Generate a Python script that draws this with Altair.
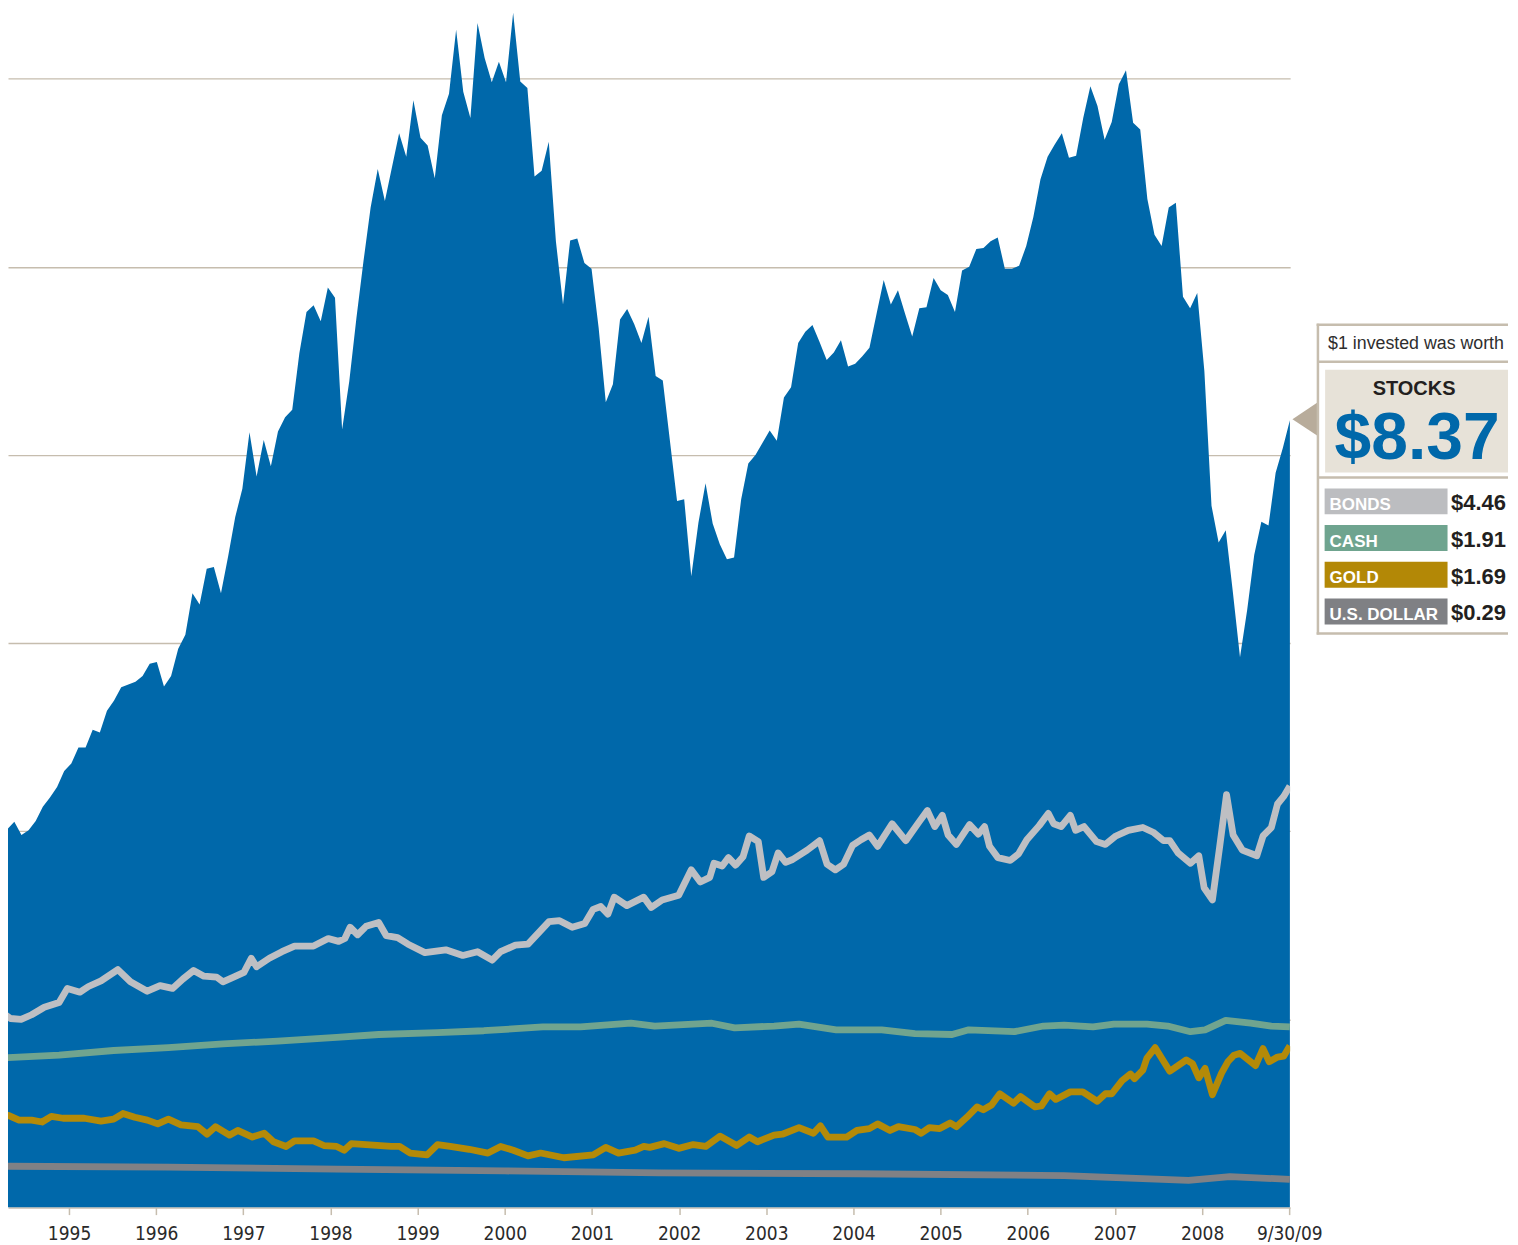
import altair as alt
import numpy as np
import pandas as pd

# ---------------- data ----------------
STOCK_START, STOCK_END = 1994.959, 2009.757
STOCK_V = [4.12, 4.02, 4.10, 3.96, 4.01, 4.11, 4.26, 4.36, 4.47, 4.64,
           4.72, 4.89, 4.89, 5.08, 5.05, 5.28, 5.39, 5.53, 5.56, 5.59,
           5.65, 5.78, 5.80, 5.54, 5.65, 5.94, 6.09, 6.53, 6.41, 6.79,
           6.81, 6.53, 6.92, 7.34, 7.64, 8.24, 7.77, 8.16, 7.88, 8.25,
           8.40, 8.48, 9.08, 9.52, 9.59, 9.42, 9.78, 9.67, 8.27, 8.78,
           9.45, 10.06, 10.63, 11.04, 10.70, 11.06, 11.42, 11.17, 11.77, 11.37,
           11.29, 10.94, 11.61, 11.84, 12.52, 11.86, 11.58, 12.59, 12.22, 11.96,
           12.18, 11.96, 12.70, 11.97, 11.90, 10.96, 11.02, 11.33, 10.27, 9.60,
           10.28, 10.30, 10.04, 9.98, 9.35, 8.56, 8.75, 9.44, 9.55, 9.39,
           9.19, 9.47, 8.84, 8.79, 8.15, 7.51, 7.53, 6.71, 7.28, 7.70,
           7.27, 7.05, 6.89, 6.91, 7.53, 7.91, 8.00, 8.13, 8.26, 8.15,
           8.61, 8.72, 9.19, 9.31, 9.38, 9.20, 9.01, 9.09, 9.22, 8.94,
           8.97, 9.05, 9.14, 9.50, 9.86, 9.60, 9.75, 9.50, 9.26, 9.56,
           9.57, 9.88, 9.75, 9.70, 9.52, 9.96, 10.00, 10.19, 10.20, 10.27,
           10.31, 9.98, 9.98, 10.01, 10.22, 10.53, 10.93, 11.17, 11.30, 11.42,
           11.16, 11.18, 11.58, 11.92, 11.71, 11.35, 11.54, 11.94, 12.09, 11.53,
           11.46, 10.72, 10.34, 10.22, 10.63, 10.68, 9.68, 9.56, 9.72, 8.89,
           7.46, 7.07, 7.20, 6.54, 5.85, 6.35, 6.94, 7.29, 7.25, 7.81,
           8.07, 8.37]

BOND_T = [1994.959, 1995.079, 1995.200, 1995.321, 1995.466, 1995.636, 1995.731, 1995.876, 1995.973, 1996.117,
          1996.310, 1996.455, 1996.648, 1996.794, 1996.938, 1997.057, 1997.179, 1997.298, 1997.444, 1997.516,
          1997.638, 1997.757, 1997.841, 1997.902, 1998.048, 1998.193, 1998.337, 1998.555, 1998.724, 1998.844,
          1998.915, 1998.975, 1999.061, 1999.158, 1999.303, 1999.390, 1999.520, 1999.640, 1999.833, 2000.073,
          2000.268, 2000.437, 2000.605, 2000.702, 2000.871, 2001.016, 2001.257, 2001.378, 2001.523, 2001.667,
          2001.764, 2001.851, 2001.933, 2002.005, 2002.150, 2002.344, 2002.430, 2002.555, 2002.745, 2002.889,
          2002.993, 2003.101, 2003.150, 2003.244, 2003.316, 2003.397, 2003.483, 2003.554, 2003.658, 2003.720,
          2003.815, 2003.886, 2003.972, 2004.052, 2004.219, 2004.362, 2004.447, 2004.542, 2004.637, 2004.740,
          2004.837, 2004.932, 2005.027, 2005.193, 2005.350, 2005.503, 2005.598, 2005.683, 2005.769, 2005.836,
          2005.931, 2006.082, 2006.183, 2006.254, 2006.311, 2006.407, 2006.549, 2006.644, 2006.739, 2006.881,
          2006.985, 2007.047, 2007.133, 2007.238, 2007.299, 2007.395, 2007.538, 2007.641, 2007.761, 2007.903,
          2008.070, 2008.188, 2008.307, 2008.379, 2008.474, 2008.617, 2008.712, 2008.773, 2008.868, 2008.949,
          2009.030, 2009.106, 2009.211, 2009.378, 2009.449, 2009.544, 2009.615, 2009.686, 2009.757]
BOND_V = [2.09, 2.01, 2.00, 2.05, 2.13, 2.18, 2.33, 2.29, 2.35, 2.41,
          2.53, 2.40, 2.30, 2.36, 2.33, 2.43, 2.52, 2.46, 2.45, 2.40,
          2.45, 2.50, 2.65, 2.56, 2.65, 2.72, 2.78, 2.78, 2.86, 2.83,
          2.86, 2.98, 2.90, 2.99, 3.03, 2.89, 2.87, 2.80, 2.71, 2.74,
          2.68, 2.72, 2.63, 2.72, 2.79, 2.80, 3.04, 3.05, 2.98, 3.02,
          3.17, 3.20, 3.12, 3.30, 3.21, 3.30, 3.19, 3.27, 3.32, 3.59,
          3.46, 3.51, 3.66, 3.63, 3.72, 3.64, 3.73, 3.95, 3.89, 3.51,
          3.57, 3.77, 3.67, 3.70, 3.80, 3.90, 3.65, 3.59, 3.65, 3.85,
          3.91, 3.96, 3.84, 4.08, 3.90, 4.10, 4.22, 4.05, 4.17, 3.96,
          3.86, 4.07, 3.97, 4.05, 3.84, 3.72, 3.69, 3.76, 3.91, 4.06,
          4.19, 4.08, 4.05, 4.17, 4.01, 4.05, 3.89, 3.86, 3.95, 4.01,
          4.04, 3.99, 3.90, 3.90, 3.77, 3.66, 3.74, 3.40, 3.27, 3.82,
          4.39, 3.96, 3.80, 3.74, 3.95, 4.04, 4.29, 4.37, 4.48]

CASH_T = [1994.959, 1995.636, 1996.262, 1996.889, 1997.516, 1998.145, 1998.820, 1999.303, 1999.978, 2000.509,
          2001.186, 2001.619, 2002.198, 2002.470, 2003.126, 2003.387, 2003.839, 2004.125, 2004.552, 2005.075,
          2005.455, 2005.882, 2006.073, 2006.596, 2006.929, 2007.167, 2007.499, 2007.737, 2008.117, 2008.355,
          2008.616, 2008.784, 2009.021, 2009.307, 2009.544, 2009.757]
CASH_V = [1.59, 1.62, 1.67, 1.70, 1.74, 1.77, 1.81, 1.84, 1.86, 1.88,
          1.92, 1.92, 1.96, 1.93, 1.96, 1.91, 1.93, 1.95, 1.89, 1.89,
          1.85, 1.84, 1.89, 1.87, 1.93, 1.94, 1.92, 1.95, 1.95, 1.93,
          1.87, 1.89, 1.99, 1.96, 1.93, 1.92]

GOLD_T = [1994.959, 1995.055, 1995.177, 1995.321, 1995.441, 1995.547, 1995.681, 1995.925, 1996.117, 1996.262,
          1996.368, 1996.504, 1996.648, 1996.768, 1996.890, 1997.035, 1997.227, 1997.333, 1997.430, 1997.590,
          1997.686, 1997.854, 1997.990, 1998.096, 1998.241, 1998.337, 1998.555, 1998.674, 1998.820, 1998.907,
          1998.989, 1999.158, 1999.447, 1999.543, 1999.665, 1999.858, 1999.978, 2000.123, 2000.341, 2000.557,
          2000.702, 2000.847, 2001.016, 2001.161, 2001.427, 2001.764, 2001.908, 2002.054, 2002.246, 2002.344,
          2002.413, 2002.579, 2002.745, 2002.911, 2003.055, 2003.221, 2003.410, 2003.554, 2003.649, 2003.839,
          2003.934, 2004.125, 2004.291, 2004.371, 2004.457, 2004.672, 2004.790, 2004.932, 2005.027, 2005.170,
          2005.266, 2005.455, 2005.527, 2005.621, 2005.740, 2005.859, 2005.931, 2006.050, 2006.168, 2006.239,
          2006.334, 2006.429, 2006.586, 2006.667, 2006.834, 2006.905, 2007.000, 2007.071, 2007.238, 2007.381,
          2007.548, 2007.641, 2007.714, 2007.832, 2007.928, 2007.975, 2008.070, 2008.117, 2008.212, 2008.379,
          2008.569, 2008.640, 2008.712, 2008.784, 2008.868, 2008.973, 2009.045, 2009.116, 2009.187, 2009.363,
          2009.449, 2009.520, 2009.615, 2009.686, 2009.757]
GOLD_V = [0.97, 0.98, 0.93, 0.93, 0.91, 0.97, 0.95, 0.95, 0.92, 0.94,
          1.00, 0.96, 0.93, 0.89, 0.94, 0.88, 0.86, 0.78, 0.86, 0.77,
          0.82, 0.75, 0.79, 0.70, 0.65, 0.71, 0.71, 0.66, 0.65, 0.61,
          0.68, 0.67, 0.65, 0.65, 0.58, 0.56, 0.67, 0.65, 0.62, 0.58,
          0.65, 0.61, 0.55, 0.58, 0.53, 0.56, 0.64, 0.58, 0.61, 0.65,
          0.64, 0.68, 0.63, 0.67, 0.65, 0.76, 0.66, 0.75, 0.70, 0.77,
          0.78, 0.85, 0.79, 0.87, 0.75, 0.75, 0.82, 0.84, 0.89, 0.82,
          0.86, 0.83, 0.79, 0.85, 0.84, 0.90, 0.86, 0.96, 1.07, 1.04,
          1.09, 1.21, 1.11, 1.18, 1.07, 1.08, 1.21, 1.15, 1.23, 1.23,
          1.13, 1.21, 1.21, 1.35, 1.42, 1.37, 1.46, 1.59, 1.70, 1.45,
          1.57, 1.53, 1.38, 1.48, 1.20, 1.43, 1.55, 1.62, 1.64, 1.51,
          1.69, 1.55, 1.60, 1.61, 1.72]

DOLLAR_T = [1994.959, 1996.886, 1998.820, 2000.749, 2002.527, 2004.790, 2007.167, 2008.594, 2009.069, 2009.757]
DOLLAR_V = [0.44, 0.43, 0.41, 0.39, 0.37, 0.36, 0.34, 0.29, 0.33, 0.30]

TICK_T = [1995.75, 1996.75, 1997.75, 1998.75, 1999.75, 2000.75, 2001.75, 2002.75,
          2003.75, 2004.75, 2005.75, 2006.75, 2007.75, 2008.75, 2009.75]
GRID_VALUES = [2, 4, 6, 8, 10, 12]

SERIES = ["BONDS", "CASH", "GOLD", "U.S. DOLLAR"]
SERIES_COLORS = ["#bebfc3", "#70a48f", "#b48a08", "#808185"]
FINAL_VALUES = [4.46, 1.91, 1.69, 0.29]
STOCK_FINAL = 8.37
HEADER = "$1 invested was worth"

# ---------------- styles ----------------
BLUE = "#0068aa"
TAN = "#c6bdae"
TRI = "#b8ac9b"
AXIS_FONT = "Liberation Sans Narrow, DejaVu Sans Condensed, Arial Narrow, sans-serif"
PANEL_FONT = "Liberation Sans, Arial, sans-serif"
W, H = 1283, 1200

stock_df = pd.DataFrame({"t": np.linspace(STOCK_START, STOCK_END, len(STOCK_V)), "value": STOCK_V})
lines_df = pd.concat([
    pd.DataFrame({"t": BOND_T, "value": BOND_V, "series": "BONDS"}),
    pd.DataFrame({"t": CASH_T, "value": CASH_V, "series": "CASH"}),
    pd.DataFrame({"t": GOLD_T, "value": GOLD_V, "series": "GOLD"}),
    pd.DataFrame({"t": DOLLAR_T, "value": DOLLAR_V, "series": "U.S. DOLLAR"}),
], ignore_index=True)

xscale = alt.Scale(domain=[1995.05, 2009.76], nice=False, zero=False)
yscale = alt.Scale(domain=[0, 12.746], nice=False, zero=False)
label_expr = "datum.value > 2009.5 ? '9/30/09' : '' + floor(datum.value)"

X = alt.X("t:Q", scale=xscale, title=None,
          axis=alt.Axis(values=TICK_T, labelExpr=label_expr, grid=False,
                        domainColor=TAN, domainWidth=1.5, tickColor=TAN, tickWidth=1.5,
                        tickSize=7, labelPadding=10, labelFont=AXIS_FONT, labelFontSize=19,
                        labelColor="#2a2a2a", labelFlush=False, labelOverlap=False))
Y = alt.Y("value:Q", scale=yscale, title=None,
          axis=alt.Axis(values=GRID_VALUES, grid=True, gridColor=TAN, gridWidth=1.3,
                        labels=False, ticks=False, domain=False))

area = alt.Chart(stock_df).mark_area(color=BLUE, clip=True, opacity=1).encode(x=X, y=Y)

lines = alt.Chart(lines_df).mark_line(strokeWidth=6.8, clip=True, strokeJoin="round",
                                      strokeCap="butt").encode(
    x=X, y=Y,
    color=alt.Color("series:N", scale=alt.Scale(domain=SERIES, range=SERIES_COLORS), legend=None),
    detail="series:N",
)

# ---------------- side panel ----------------
one = pd.DataFrame({"k": [0]})
OX, OY = 8, 8  # page margin offset


def px(v):
    return v - OX


def py(v):
    return v - OY


def hrule(x1, x2, y, color=TAN, w=2.5):
    return alt.Chart(one).mark_rule(color=color, strokeWidth=w).encode(
        x=alt.value(px(x1)), x2=alt.value(px(x2)), y=alt.value(py(y)))


def vrule(x, y1, y2, color=TAN, w=2.5):
    return alt.Chart(one).mark_rule(color=color, strokeWidth=w).encode(
        x=alt.value(px(x)), y=alt.value(py(y1)), y2=alt.value(py(y2)))


def rect(x1, x2, y1, y2, color):
    return alt.Chart(one).mark_rect(color=color, opacity=1).encode(
        x=alt.value(px(x1)), x2=alt.value(px(x2)), y=alt.value(py(y1)), y2=alt.value(py(y2)))


def text(s, x, y, size, color, align="left", weight="normal", font=PANEL_FONT):
    return alt.Chart(one).mark_text(text=s, align=align, baseline="alphabetic", fontSize=size,
                                    color=color, fontWeight=weight, font=font).encode(
        x=alt.value(px(x)), y=alt.value(py(y)))


RIGHT = 1509
panel = [
    hrule(1317.5, RIGHT, 324.5),
    hrule(1317.5, RIGHT, 633.5),
    vrule(1318.8, 323.5, 634.5),
    hrule(1318, RIGHT, 361.5),
    rect(1326, RIGHT, 369.5, 472.5, "#e7e2d8"),
    hrule(1318, RIGHT, 477.5),
    text(HEADER, 1329, 348.5, 17.8, "#2e2e2e"),
    text("STOCKS", 1415, 394.5, 20, "#231f20", align="center", weight="bold"),
    text(f"${STOCK_FINAL:.2f}", 1418, 458.5, 66, BLUE, align="center", weight="bold"),
]
RECT_COLORS = ["#bcbdc0", "#6fa48f", "#b38806", "#7f8084"]
for i, (name, val, col) in enumerate(zip(SERIES, FINAL_VALUES, RECT_COLORS)):
    top = 488.3 + i * 36.7
    panel.append(rect(1325.5, 1448.5, top, top + 26, col))
    panel.append(text(name, 1330.5, top + 21.5, 17, "white", weight="bold"))
    panel.append(text(f"${val:.2f}", 1507, top + 22, 22, "#231f20", align="right", weight="bold"))

triangle = alt.Chart(one).mark_point(
    shape="M -1 0 L 1 -1.33 L 1 1.33 Z", size=625, filled=True, color=TRI, opacity=1, strokeWidth=0
).encode(x=alt.value(px(1305.8)), y=alt.value(py(419)))

chart = alt.layer(area, lines, triangle, *panel).properties(
    width=W, height=H, padding=0, background="white"
).configure_view(strokeWidth=0)

chart.save("out.html", embed_options={"renderer": "svg", "actions": False})
